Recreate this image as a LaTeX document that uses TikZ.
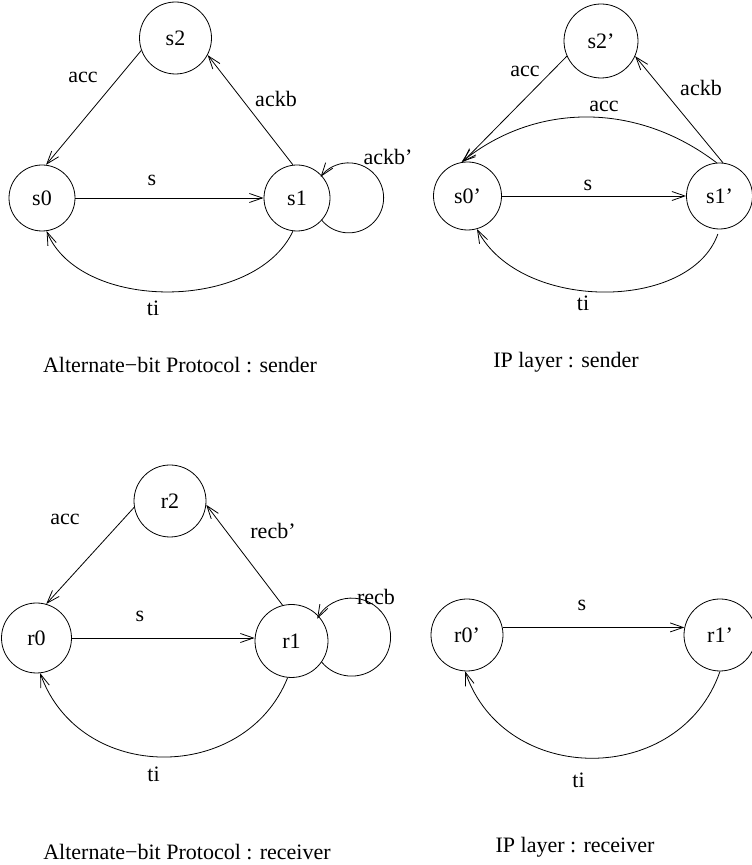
\documentclass[tikz,border=0pt]{standalone}
\usepackage{fontspec}
\setmainfont{Liberation Serif}
\usetikzlibrary{arrows.meta}
\begin{document}
\begin{tikzpicture}[x=1pt,y=1pt,
  font=\fontsize{22}{26}\selectfont,
  state/.style={circle, draw, line width=0.8pt, inner sep=0pt},
  arr/.style={-{Straight Barb[length=13pt,width=9pt]}, line width=0.8pt},
  lbl/.style={inner sep=0pt}]
\useasboundingbox (0,0) rectangle (752,865);

% ---- Alternate-bit protocol: sender ----
\node[state, minimum size=72pt] (s2) at (175.5,827) {s2};
\node[state, minimum size=66pt] (s0) at (42,667) {s0};
\node[state, minimum size=66pt] (s1) at (297,667) {s1};
\draw[arr] (s0) -- (s1);
\draw[arr] (s2.200) -- (s0.83);
\draw[arr] (s1.97) -- (s2.-28);
\draw[arr] (s1.-97) .. controls (255,553) and (80,553) .. (s0.-82);
\draw[arr] (s1.-42) arc[start angle=220, end angle=503, radius=35];
\node[lbl] (l1) at (83,788) {acc};
\node[lbl] (l2) at (276,766) {ackb};
\node[lbl] (l3) at (152,685) {s};
\node[lbl] (l4) at (153,557) {ti};
\node[lbl] (l5) at (388,708) {ackb’};
\node[lbl] (c1) at (180,499.5) {Alternate−bit Protocol : sender};

% ---- IP layer: sender ----
\node[state, minimum size=74pt] (s2p) at (601,824) {s2’};
\node[state, minimum size=68pt] (s0p) at (467.5,669) {s0’};
\node[state, minimum size=66pt] (s1p) at (719.5,669) {s1’};
\draw[arr] (s0p) -- (s1p);
\draw[arr] (s2p.204) -- (s0p.98);
\draw[arr] (s1p.95) .. controls (637,763) and (536,763) .. (s0p.100);
\draw[arr] (s1p.84) -- (s2p.-24);
\draw[arr, shorten <=5pt] (s1p.-90) .. controls (690,553) and (520,553) .. (s0p.-74);
\node[lbl] (m1) at (525,793.5) {acc};
\node[lbl] (m2) at (701,777) {ackb};
\node[lbl] (m3) at (604,759) {acc};
\node[lbl] (m4) at (588,680) {s};
\node[lbl] (m5) at (583,562) {ti};
\node[lbl] (c2) at (566,502.5) {IP layer : sender};

% ---- Alternate-bit protocol: receiver ----
\node[state, minimum size=72pt] (r2) at (170,364) {r2};
\node[state, minimum size=70pt] (r0) at (36.5,227) {r0};
\node[state, minimum size=73pt] (r1) at (291.5,224) {r1};
\draw[arr] (r0.east) -- (r0.east -| r1.west);
\draw[arr] (r2.190) -- (r0.74);
\draw[arr] (r1.104) -- (r2.-6);
\draw[arr] (r1.-96) .. controls (245,81) and (80,81) .. (r0.-84);
\draw[arr] (r1.-35) arc[start angle=220, end angle=512, radius=39];
\node[lbl] (n1) at (65,346) {acc};
\node[lbl] (n2) at (273,334) {recb’};
\node[lbl] (n3) at (140,249) {s};
\node[lbl] (n4) at (153.5,91) {ti};
\node[lbl] (n5) at (376,268) {recb};
\node[lbl] (c3) at (187,13) {Alternate−bit Protocol : receiver};

% ---- IP layer: receiver ----
\node[state, minimum size=72pt] (r0p) at (467,230) {r0’};
\node[state, minimum size=72pt] (r1p) at (720,230) {r1’};
\draw[arr] (r0p.12) -- (r1p.168);
\draw[arr] (r1p.-90) .. controls (680,78) and (505,78) .. (r0p.-93);
\node[lbl] (o1) at (582,260) {s};
\node[lbl] (o2) at (578.5,85) {ti};
\node[lbl] (c4) at (575,18) {IP layer : receiver};
\end{tikzpicture}
\end{document}
